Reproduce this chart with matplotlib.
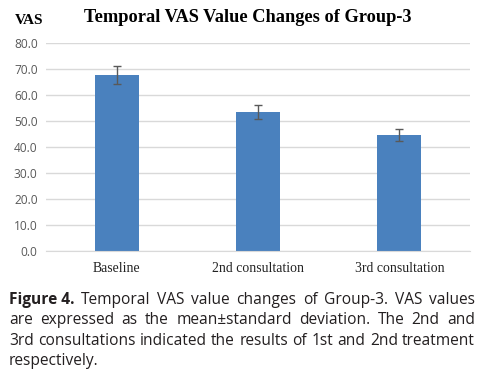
import matplotlib
matplotlib.use("Agg")
import matplotlib.pyplot as plt

categories = ["Baseline", "2nd consultation", "3rd consultation"]
means = [67.6, 53.3, 44.5]
sds = [3.5, 2.7, 2.3]
yticks = [0, 10, 20, 30, 40, 50, 60, 70, 80]

caption_lines = [
    ("Figure 4.", "Temporal VAS value changes of Group-3. VAS values"),
    ("", "are expressed as the mean\u00b1standard deviation. The 2nd and"),
    ("", "3rd consultations indicated the results of 1st and 2nd treatment"),
    ("", "respectively."),
]

W, H = 478, 373
fig = plt.figure(figsize=(W / 100, H / 100), dpi=100)
ax = fig.add_axes([46 / W, 1 - 250.7 / H, 424 / W, 208 / H])

x = range(len(categories))
ax.bar(x, means, width=0.31, color="#4A81BE", zorder=2)
ax.errorbar(x, means, yerr=sds, fmt="none", ecolor="#595959", elinewidth=1,
            capsize=3, capthick=1, zorder=3)

ax.set_xlim(-0.5, len(categories) - 0.5)
ax.set_ylim(0, 80)
ax.set_yticks(yticks)
ax.set_yticklabels([f"{v:.1f}" for v in yticks], fontsize=8.6, color="#595959",
                   family="Open Sans")
ax.set_xticks(list(x))
ax.set_xticklabels(categories, fontsize=9.9, family="Liberation Serif", color="#222222")
ax.grid(axis="y", color="#D9D9D9", linewidth=1, zorder=0)
for s in ["top", "right", "left"]:
    ax.spines[s].set_visible(False)
ax.spines["bottom"].set_color("#D9D9D9")
ax.tick_params(length=0, pad=6)
ax.tick_params(axis="x", pad=8)

fig.text(248 / W, 1 - 17 / H, "Temporal VAS Value Changes of Group-3", ha="center",
         va="center", fontsize=13.2, fontweight="bold", family="Liberation Serif")
fig.text(15 / W, 1 - 20 / H, "VAS", ha="left", va="center", fontsize=11,
         fontweight="bold", family="Liberation Serif")

# justified caption
fig.canvas.draw()
renderer = fig.canvas.get_renderer()
left, right = 9, 475
fs = 11.2
for i, (bold, rest) in enumerate(caption_lines):
    ypix = 300 + i * 20.3
    y = 1 - ypix / H
    words = []
    if bold:
        words.append((bold, "bold"))
    words += [(w, "normal") for w in rest.split(" ")]
    texts = [fig.text(0, y, w, fontsize=fs, fontweight=wt, family="Open Sans",
                      va="center", color="#231F20") for w, wt in words]
    widths = [t.get_window_extent(renderer).width for t in texts]
    last = i == len(caption_lines) - 1
    if last:
        gap = 4.5
    else:
        gap = (right - left - sum(widths)) / (len(words) - 1)
    xp = left
    for t, wd in zip(texts, widths):
        t.set_x(xp / W)
        xp += wd + gap

fig.savefig("out.png", dpi=100)
